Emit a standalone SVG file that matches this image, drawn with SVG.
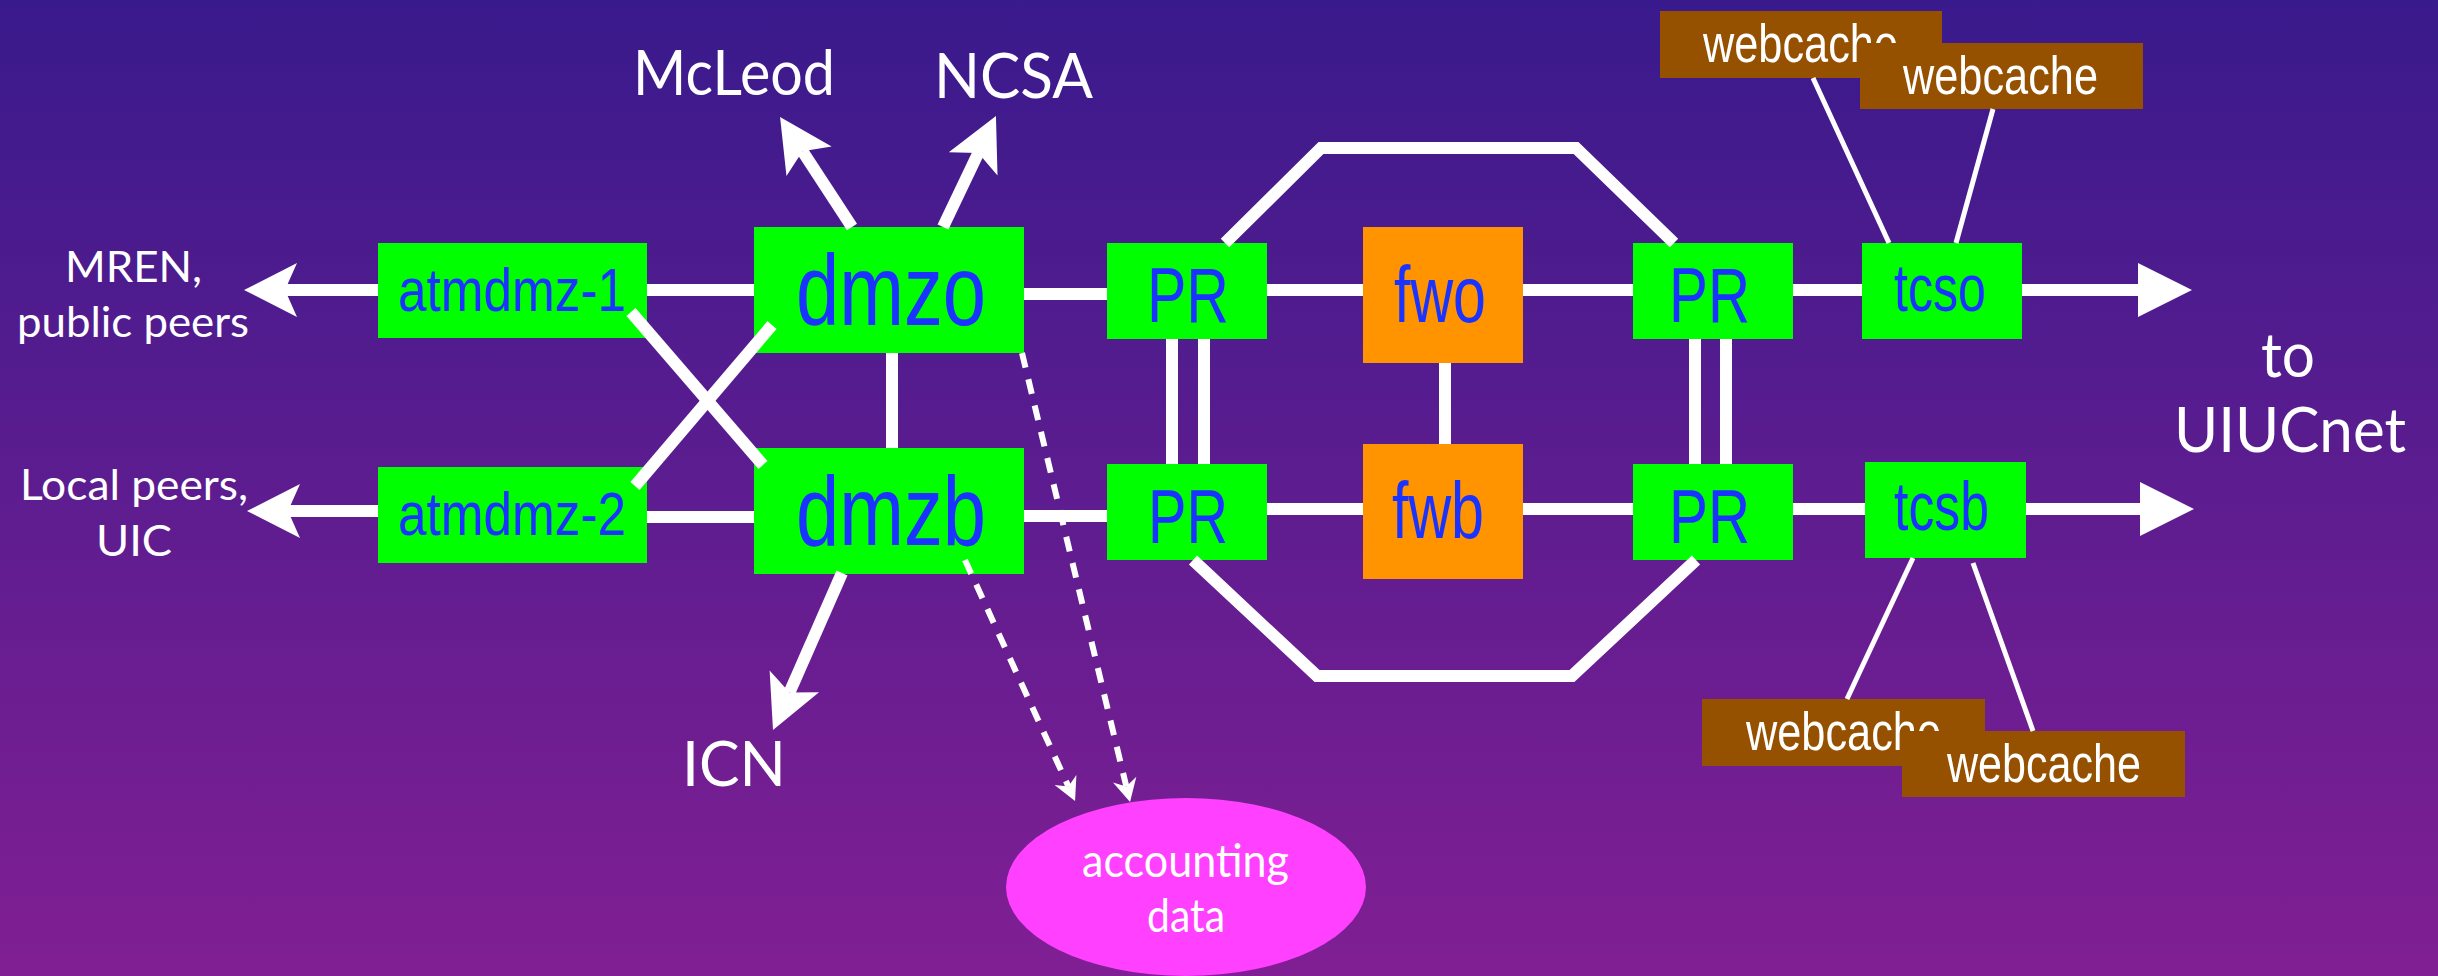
<svg xmlns="http://www.w3.org/2000/svg" width="2438" height="976" viewBox="0 0 2438 976">
<defs>
<linearGradient id="bg" x1="0" y1="0" x2="0" y2="1">
<stop offset="0" stop-color="#391A8C"/>
<stop offset="1" stop-color="#801F93"/>
</linearGradient>
<marker id="head" markerUnits="userSpaceOnUse" viewBox="-15 -30 60 60" refX="0" refY="0" markerWidth="60" markerHeight="60" orient="auto">
<path d="M41,0 L-12,-27 L0,0 L-12,27 Z" fill="#fff"/>
</marker>
<marker id="tri" markerUnits="userSpaceOnUse" viewBox="0 -30 60 60" refX="0" refY="0" markerWidth="60" markerHeight="60" orient="auto">
<path d="M0,-27 L54,0 L0,27 Z" fill="#fff"/>
</marker>
<marker id="small" markerUnits="userSpaceOnUse" viewBox="-10 -15 30 30" refX="0" refY="0" markerWidth="30" markerHeight="30" orient="auto">
<path d="M16,0 L-7,-12 L0,0 L-7,12 Z" fill="#fff"/>
</marker>
</defs>
<style>
.box{fill:#00FF00}
.fw{fill:#FF9400}
.lbl{font-family:"Liberation Sans",Arial,sans-serif;fill:#1A33FF}
.wc{fill:#955100}
.wct{font-family:"Liberation Sans",Arial,sans-serif;fill:#fff;font-size:54px}
.ext{font-family:Lato,"Noto Sans",sans-serif;fill:#fff}
.link{stroke:#fff;stroke-width:12;fill:none;stroke-linejoin:miter}
.thin{stroke:#fff;stroke-width:5;fill:none}
.dash{stroke:#fff;stroke-width:6;stroke-dasharray:15 12;fill:none}
</style>
<rect x="0" y="0" width="2438" height="976" fill="url(#bg)"/>

<g id="labels">
<text class="ext" x="65" y="282" font-size="43" textLength="137" lengthAdjust="spacingAndGlyphs">MREN,</text>
<text class="ext" x="17" y="337" font-size="43" textLength="232" lengthAdjust="spacingAndGlyphs">public peers</text>
<text class="ext" x="20" y="500" font-size="43" textLength="228" lengthAdjust="spacingAndGlyphs">Local peers,</text>
<text class="ext" x="96" y="556" font-size="43" textLength="76" lengthAdjust="spacingAndGlyphs">UIC</text>
<text class="ext" x="633" y="95" font-size="61" textLength="202" lengthAdjust="spacingAndGlyphs">McLeod</text>
<text class="ext" x="934" y="98" font-size="61" textLength="159" lengthAdjust="spacingAndGlyphs">NCSA</text>
<text class="ext" x="682" y="786" font-size="62" textLength="104" lengthAdjust="spacingAndGlyphs">ICN</text>
<text class="ext" x="2261" y="377" font-size="62" textLength="54" lengthAdjust="spacingAndGlyphs">to</text>
<text class="ext" x="2174" y="452" font-size="62" textLength="232" lengthAdjust="spacingAndGlyphs">UIUCnet</text>
</g>

<g id="atmdmz-1"><rect class="box" x="378" y="243" width="269" height="95"/><text class="lbl" x="398" y="311" font-size="62" textLength="228" lengthAdjust="spacingAndGlyphs">atmdmz-1</text></g>
<g id="atmdmz-2"><rect class="box" x="378" y="467" width="269" height="96"/><text class="lbl" x="398" y="535" font-size="62" textLength="228" lengthAdjust="spacingAndGlyphs">atmdmz-2</text></g>
<g id="dmzo"><rect class="box" x="754" y="227" width="270" height="126"/><text class="lbl" x="796" y="325" font-size="100" textLength="190" lengthAdjust="spacingAndGlyphs">dmzo</text></g>
<g id="dmzb"><rect class="box" x="754" y="448" width="270" height="126"/><text class="lbl" x="796" y="545" font-size="98" textLength="190" lengthAdjust="spacingAndGlyphs">dmzb</text></g>
<g id="pr-1"><rect class="box" x="1107" y="243" width="160" height="96"/><text class="lbl" x="1147" y="322" font-size="78" textLength="82" lengthAdjust="spacingAndGlyphs">PR</text></g>
<g id="fwo"><rect class="fw" x="1363" y="227" width="160" height="136"/><text class="lbl" x="1394" y="322" font-size="79" textLength="92" lengthAdjust="spacingAndGlyphs">fwo</text></g>
<g id="pr-2"><rect class="box" x="1633" y="243" width="160" height="96"/><text class="lbl" x="1669" y="322" font-size="78" textLength="81" lengthAdjust="spacingAndGlyphs">PR</text></g>
<g id="tcso"><rect class="box" x="1862" y="243" width="160" height="96"/><text class="lbl" x="1894" y="311" font-size="66" textLength="92" lengthAdjust="spacingAndGlyphs">tcso</text></g>
<g id="pr-3"><rect class="box" x="1107" y="464" width="160" height="96"/><text class="lbl" x="1148" y="543" font-size="76" textLength="80" lengthAdjust="spacingAndGlyphs">PR</text></g>
<g id="fwb"><rect class="fw" x="1363" y="444" width="160" height="135"/><text class="lbl" x="1392" y="538" font-size="80" textLength="92" lengthAdjust="spacingAndGlyphs">fwb</text></g>
<g id="pr-4"><rect class="box" x="1633" y="464" width="160" height="96"/><text class="lbl" x="1669" y="543" font-size="76" textLength="81" lengthAdjust="spacingAndGlyphs">PR</text></g>
<g id="tcsb"><rect class="box" x="1865" y="462" width="161" height="96"/><text class="lbl" x="1894" y="530" font-size="68" textLength="95" lengthAdjust="spacingAndGlyphs">tcsb</text></g>
<g id="webcache-1"><rect class="wc" x="1660" y="11" width="282" height="67"/><text class="wct" x="1703" y="62" textLength="195" lengthAdjust="spacingAndGlyphs">webcache</text></g>
<g id="webcache-2"><rect class="wc" x="1860" y="43" width="283" height="66"/><text class="wct" x="1903" y="94" textLength="195" lengthAdjust="spacingAndGlyphs">webcache</text></g>
<g id="webcache-3"><rect class="wc" x="1702" y="699" width="283" height="67"/><text class="wct" x="1746" y="750" textLength="195" lengthAdjust="spacingAndGlyphs">webcache</text></g>
<g id="webcache-4"><rect class="wc" x="1902" y="731" width="283" height="66"/><text class="wct" x="1947" y="782" textLength="194" lengthAdjust="spacingAndGlyphs">webcache</text></g>
<g id="accounting"><ellipse cx="1186" cy="887" rx="180" ry="89" fill="#FF40FF"/>
<text class="ext" x="1082" y="877" font-size="47" textLength="207" lengthAdjust="spacingAndGlyphs">accounting</text>
<text class="ext" x="1147" y="932" font-size="47" textLength="78" lengthAdjust="spacingAndGlyphs">data</text></g>

<g id="connectors">
<line class="link" x1="378" y1="290" x2="285" y2="290" marker-end="url(#head)"/>
<line class="link" x1="378" y1="511" x2="288" y2="511" marker-end="url(#head)"/>
<line class="link" x1="647" y1="290" x2="754" y2="290"/>
<line class="link" x1="647" y1="517" x2="754" y2="517"/>
<line class="link" x1="631" y1="312" x2="763" y2="465"/>
<line class="link" x1="635" y1="486" x2="772" y2="325"/>
<line class="link" x1="892" y1="353" x2="892" y2="448"/>
<line class="link" x1="852" y1="227" x2="802.5" y2="151.3" marker-end="url(#head)"/>
<line class="link" x1="943" y1="227" x2="978.3" y2="153" marker-end="url(#head)"/>
<line class="link" x1="842" y1="573" x2="789.5" y2="692.4" marker-end="url(#head)"/>
<line class="link" x1="1024" y1="294" x2="1107" y2="294"/>
<line class="link" x1="1024" y1="516" x2="1107" y2="516"/>
<line class="link" x1="1267" y1="290" x2="1363" y2="290"/>
<line class="link" x1="1523" y1="290" x2="1633" y2="290"/>
<line class="link" x1="1793" y1="290" x2="1862" y2="290"/>
<line class="link" x1="2022" y1="290" x2="2138" y2="290" marker-end="url(#tri)"/>
<line class="link" x1="1267" y1="509" x2="1363" y2="509"/>
<line class="link" x1="1523" y1="509" x2="1633" y2="509"/>
<line class="link" x1="1793" y1="509" x2="1865" y2="509"/>
<line class="link" x1="2026" y1="509" x2="2140" y2="509" marker-end="url(#tri)"/>
<line class="link" x1="1445" y1="363" x2="1445" y2="444"/>
<line class="link" stroke-width="11" x1="1172" y1="339" x2="1172" y2="464"/>
<line class="link" stroke-width="11" x1="1204" y1="339" x2="1204" y2="464"/>
<line class="link" stroke-width="11" x1="1695" y1="339" x2="1695" y2="464"/>
<line class="link" stroke-width="11" x1="1726" y1="339" x2="1726" y2="464"/>
<polyline class="link" points="1225,243 1321,148 1576,148 1674,243"/>
<polyline class="link" points="1193,560 1317,676 1572,676 1696,560"/>
<line class="thin" x1="1813" y1="78" x2="1889" y2="243"/>
<line class="thin" x1="1993" y1="109" x2="1956" y2="243"/>
<line class="thin" x1="1913" y1="558" x2="1847" y2="699"/>
<line class="thin" x1="1973" y1="563" x2="2033" y2="731"/>
<line class="dash" x1="1022" y1="353" x2="1126.3" y2="786.4" marker-end="url(#small)"/>
<line class="dash" x1="965" y1="560" x2="1068.4" y2="786.4" marker-end="url(#small)"/>
</g>
</svg>
